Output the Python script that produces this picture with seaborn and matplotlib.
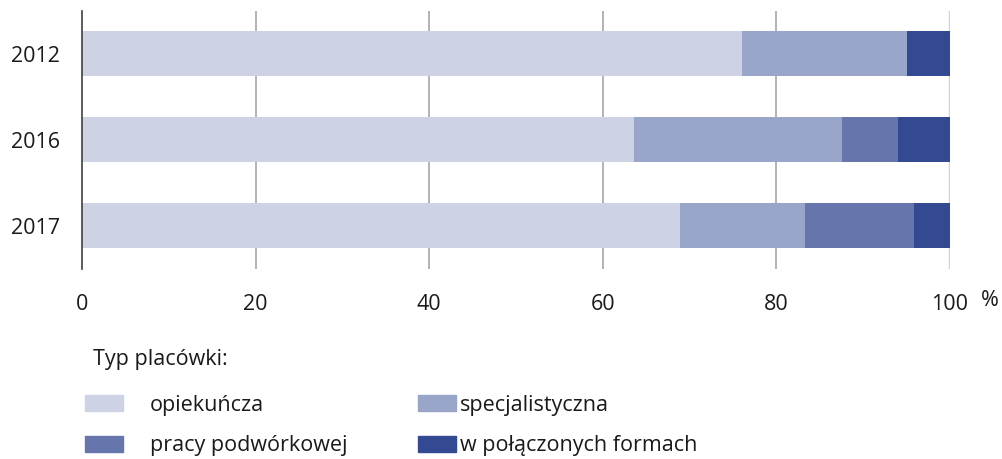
import matplotlib
matplotlib.use("Agg")
import matplotlib.pyplot as plt
from matplotlib.patches import Rectangle
import seaborn as sns
import numpy as np
import pandas as pd

years = ["2012", "2016", "2017"]
opiekuncza = [76.0, 63.6, 68.9]
specjalistyczna = [19.1, 24.0, 14.4]
pracy_podworkowej = [0.0, 6.4, 12.5]
polaczone = [4.9, 6.0, 4.2]
series_names = ["opiekuńcza", "specjalistyczna", "pracy podwórkowej", "w połączonych formach"]
colors = ["#CDD3E5", "#99A6C9", "#6676AC", "#334A92"]
x_ticks = [0, 20, 40, 60, 80, 100]

sns.set_theme(style="white")
plt.rcParams['font.family'] = ['Open Sans', 'DejaVu Sans']

fig = plt.figure(figsize=(10.02, 4.59), dpi=100)
ax = fig.add_axes([82/1002, 1-268.5/459, (950-82)/1002, (268.5-10.5)/459])

series = [opiekuncza, specjalistyczna, pracy_podworkowej, polaczone]
cum = np.cumsum(np.array(series), axis=0)
# draw from total down to first so layers stack visually
for i in range(len(series)-1, -1, -1):
    df = pd.DataFrame({"year": years, "value": cum[i]})
    sns.barplot(data=df, x="value", y="year", orient="h", color=colors[i],
                width=0.525, saturation=1, ax=ax, zorder=3, linewidth=0)

ax.set_xlim(0, 100)
ax.set_ylim(2.5, -0.5)
ax.set_xticks(x_ticks)
ax.set_xticklabels([str(t) for t in x_ticks])
ax.set_xlabel("")
ax.set_ylabel("")
for t in x_ticks[1:-1]:
    ax.axvline(t, color="#a6a6a6", lw=1.2, zorder=1)
ax.axvline(100, color="#d4d4d4", lw=2.5, zorder=1)
for s in ["top", "right", "bottom"]:
    ax.spines[s].set_visible(False)
ax.spines["left"].set_color("#404040")
ax.spines["left"].set_linewidth(1.2)
ax.spines["left"].set_zorder(5)
ax.tick_params(axis="x", length=0, pad=18, labelsize=15.5, labelcolor="#1a1a1a")
ax.tick_params(axis="y", length=0, pad=16, labelsize=15.5, labelcolor="#1a1a1a")
ax.text(990/1002, 1-300/459, "%", transform=fig.transFigure, ha="center", va="center",
        fontsize=15.5, color="#1a1a1a")

# legend
fig.text(93/1002, 1-359/459, "Typ placówki:", ha="left", va="center", fontsize=15.5, color="#1a1a1a")
legend_items = [
    (85, 395, 150, 0), (418, 395, 460, 1),
    (85, 436, 150, 2), (418, 436, 460, 3),
]
for px, py, tx, idx in legend_items:
    fig.patches.append(Rectangle((px/1002, 1-(py+16)/459), 38/1002, 16/459,
                                 transform=fig.transFigure, color=colors[idx]))
    fig.text(tx/1002, 1-(py+10)/459, series_names[idx], ha="left", va="center",
             fontsize=15.5, color="#1a1a1a")

fig.savefig("out.png", dpi=100)
